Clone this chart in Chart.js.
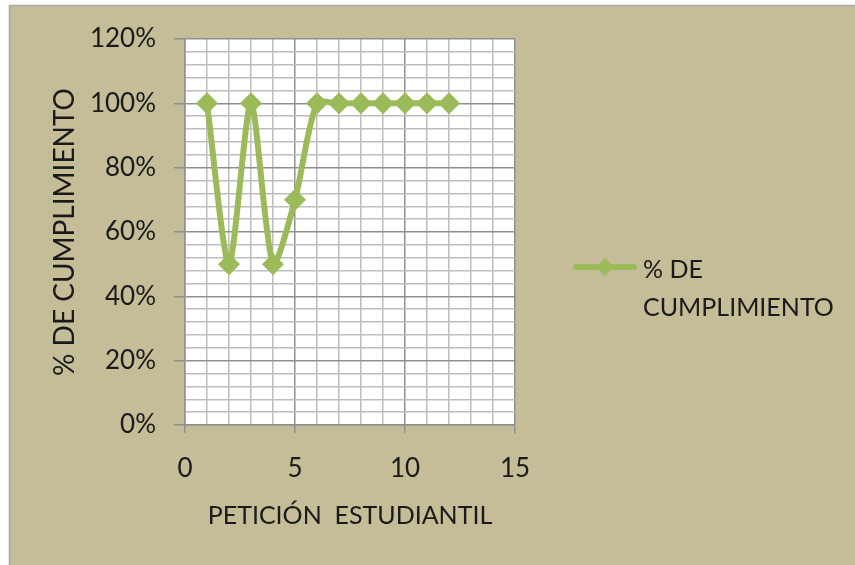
<!DOCTYPE html>
<html>
<head>
<meta charset="utf-8">
<script src="https://cdn.jsdelivr.net/npm/chart.js@4/dist/chart.umd.min.js"></script>
<style>
  html, body { margin: 0; padding: 0; background: #ffffff; }
  #wrap { width: 855px; height: 565px; position: relative; }
</style>
</head>
<body>
<div id="wrap"><canvas id="cumplimientoChart" width="855" height="565"></canvas></div>
<script>
// Datos
const peticiones = [1, 2, 3, 4, 5, 6, 7, 8, 9, 10, 11, 12];
const cumplimiento = [100, 50, 100, 50, 70, 100, 100, 100, 100, 100, 100, 100];
const serieLabel = ['% DE', 'CUMPLIMIENTO'];
const xTitle = 'PETICIÓN  ESTUDIANTIL';
const yTitle = '% DE CUMPLIMIENTO';

const FONT = 'Lato';
const green = '#9BBB59';
const bg = '#C4BD97';

// fondo beige con borde gris a la izquierda y arriba
const backgroundPlugin = {
    id: 'fondo',
    beforeDraw(chart) {
        const ctx = chart.ctx;
        ctx.save();
        ctx.fillStyle = bg;
        ctx.fillRect(9, 5, chart.width - 9, chart.height - 5);
        ctx.strokeStyle = '#a8a8a8';
        ctx.lineWidth = 1.5;
        ctx.beginPath();
        ctx.moveTo(9.5, chart.height);
        ctx.lineTo(9.5, 5.5);
        ctx.lineTo(chart.width, 5.5);
        ctx.stroke();
        const a = chart.chartArea;
        ctx.fillStyle = '#ffffff';
        ctx.fillRect(a.left, a.top, a.right - a.left, a.bottom - a.top);
        ctx.restore();
    }
};

// leyenda a la derecha, texto en dos lineas
const legendPlugin = {
    id: 'leyenda',
    afterDraw(chart) {
        const ctx = chart.ctx;
        ctx.save();
        ctx.strokeStyle = green;
        ctx.lineWidth = 6;
        ctx.lineCap = 'round';
        ctx.beginPath();
        ctx.moveTo(576, 267);
        ctx.lineTo(634, 267);
        ctx.stroke();
        ctx.fillStyle = green;
        ctx.beginPath();
        ctx.moveTo(605, 258);
        ctx.lineTo(614, 267);
        ctx.lineTo(605, 276);
        ctx.lineTo(596, 267);
        ctx.closePath();
        ctx.fill();
        ctx.fillStyle = '#1a1a1a';
        ctx.font = '25px ' + FONT;
        ctx.textBaseline = 'middle';
        ctx.textAlign = 'left';
        ctx.fillText(serieLabel[0], 643, 270);
        ctx.fillText(serieLabel[1], 643, 308);
        ctx.restore();
    }
};

const ctx = document.getElementById('cumplimientoChart').getContext('2d');
new Chart(ctx, {
    type: 'line',
    data: {
        datasets: [{
            label: serieLabel.join(' '),
            data: peticiones.map((p, i) => ({ x: p, y: cumplimiento[i] })),
            borderColor: green,
            backgroundColor: green,
            borderWidth: 6,
            tension: 0.25,
            pointStyle: 'rectRot',
            pointRadius: 11,
            pointHoverRadius: 11,
            pointBorderWidth: 0,
            fill: false
        }]
    },
    options: {
        responsive: false,
        animation: false,
        devicePixelRatio: 1,
        layout: { padding: { left: 48, top: 39, right: 340, bottom: 0 } },
        plugins: {
            legend: { display: false },
            tooltip: { enabled: false }
        },
        scales: {
            x: {
                type: 'linear',
                min: 0,
                max: 15,
                afterFit: (s) => { s.height = 140; },
                ticks: {
                    stepSize: 1,
                    autoSkip: false,
                    maxRotation: 0,
                    padding: 20,
                    color: '#1a1a1a',
                    font: { family: FONT, size: 26 },
                    callback: (v) => (v % 5 === 0 ? String(v) : '')
                },
                grid: {
                    tickLength: 8,
                    color: (c) => (c.tick && c.tick.value % 5 === 0 ? '#8f8f8f' : '#bdbdbd'),
                    tickColor: (c) => (c.tick && c.tick.value % 5 === 0 ? '#8f8f8f' : 'rgba(0,0,0,0)'),
                    lineWidth: 1.5
                },
                border: { color: '#8f8f8f', width: 1.5 },
                title: {
                    display: true,
                    text: xTitle,
                    color: '#1a1a1a',
                    font: { family: FONT, size: 25 },
                    padding: { top: 0, bottom: 34 }
                }
            },
            y: {
                min: 0,
                max: 120,
                afterFit: (s) => { s.width = 185 - 48; },
                ticks: {
                    stepSize: 4,
                    autoSkip: false,
                    padding: 18,
                    color: '#1a1a1a',
                    font: { family: FONT, size: 26 },
                    callback: (v) => (v % 20 === 0 ? v + '%' : '')
                },
                grid: {
                    tickLength: 11,
                    color: (c) => (c.tick && c.tick.value % 20 === 0 ? '#8f8f8f' : '#bdbdbd'),
                    tickColor: (c) => (c.tick && c.tick.value % 20 === 0 ? '#8f8f8f' : 'rgba(0,0,0,0)'),
                    lineWidth: 1.5
                },
                border: { color: '#8f8f8f', width: 1.5 },
                title: {
                    display: true,
                    text: yTitle,
                    color: '#1a1a1a',
                    font: { family: FONT, size: 28 },
                    padding: 0
                }
            }
        }
    },
    plugins: [backgroundPlugin, legendPlugin]
});
</script>
</body>
</html>
